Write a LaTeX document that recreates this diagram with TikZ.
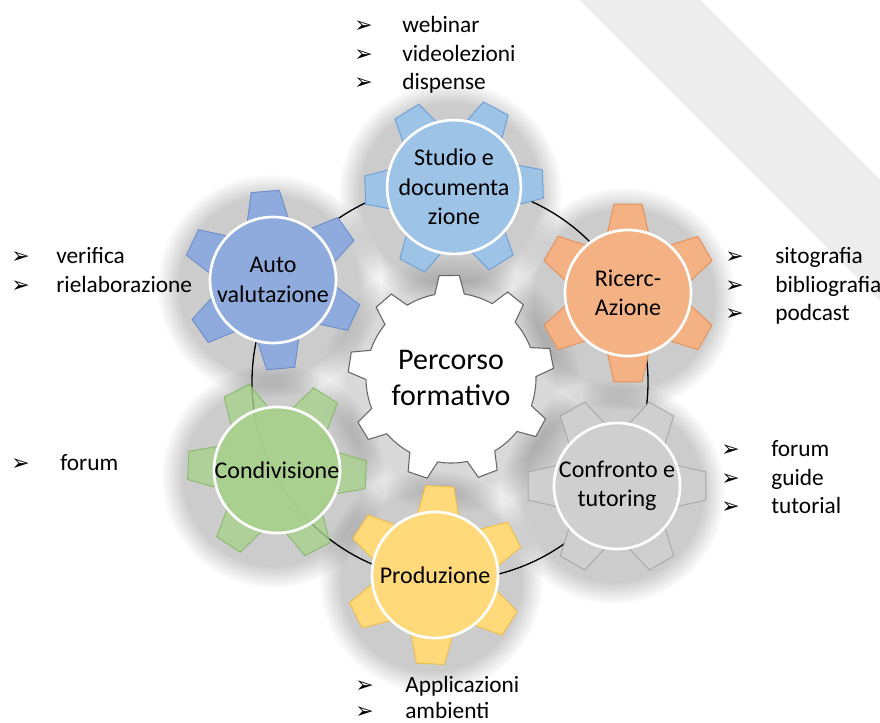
\documentclass[tikz,border=0pt]{standalone}
\usepackage{fontspec}
\setmainfont{Carlito}
\newfontfamily\arrowfont{DejaVu Sans}
\usetikzlibrary{calc,fadings}
\definecolor{studioF}{HTML}{9DC3E6}\definecolor{studioD}{HTML}{6F9FD6}
\definecolor{ricF}{HTML}{F4B183}\definecolor{ricD}{HTML}{E0915E}
\definecolor{autoF}{HTML}{8FAADC}\definecolor{autoD}{HTML}{6C8CCB}
\definecolor{condF}{HTML}{A9D18E}\definecolor{condD}{HTML}{8AB86E}
\definecolor{confF}{HTML}{CFCFCF}\definecolor{confD}{HTML}{A8A8A8}
\definecolor{prodF}{HTML}{FFD97A}\definecolor{prodD}{HTML}{EDBE4A}
\newcommand{\smallgear}[4]{%
  \draw[shift={(#1)}, fill=#3, draw=#4, line width=0.7pt, #2]
    ({-(\gearoff-21)}:60)
    \foreach \k in {0,...,5}{
      -- ({-(\gearoff+\k*60-21)}:60)
      -- ({-(\gearoff+\k*60-9)}:90)
      -- ({-(\gearoff+\k*60+9)}:90)
      -- ({-(\gearoff+\k*60+21)}:60)
    } -- cycle;}
\tikzset{
  gearlabel/.style={circle, minimum size=94.5pt, inner sep=0pt, draw=white,
    line width=2pt, align=center, font=\fontsize{18}{22}\selectfont},
  bullettext/.style={anchor=base west, inner sep=0pt, font=\fontsize{17.5}{21}\selectfont},
  bulletarrow/.style={anchor=base west, inner sep=0pt, font=\arrowfont\fontsize{16.5}{17}\selectfont},
  ring/.style={draw=black, line width=1pt},
  watermark/.style={draw=black, draw opacity=0.07, line width=64pt, line cap=round},
  halo/.style={fill=black, fill opacity=0.2, path fading=circle with fuzzy edge 20 percent}
}
\begin{document}
\begin{tikzpicture}[x=0.75pt, y=-0.75pt]
\useasboundingbox (0,0) rectangle (880,722);
\fill[white] (0,0) rectangle (880,722);
% centers
\coordinate (mainC) at (451,378);
\coordinate (ringC) at (450,382);
\coordinate (studioC) at (454,187);
\coordinate (ricC) at (628,293);
\coordinate (confC) at (617,486);
\coordinate (prodC) at (435,575);
\coordinate (condC) at (277,470);
\coordinate (autoC) at (273,280);
% soft shadows
\foreach \c in {studioC,ricC,confC,prodC,condC,autoC}{
  \fill[halo] ($(\c)+(-4,6)$) circle[radius=112];
}
\fill[halo, fill opacity=0.15] ($(mainC)+(0,6)$) circle[radius=130];
% faint watermark band
\draw[watermark] (600,-40) -- (920,280);
% ring
\draw[ring] (ringC) circle[radius=198];
% central gear
\draw[shift={(mainC)}, fill=white, draw=gray!80!black, line width=0.8pt]
  ({-(11-10)}:85)
  \foreach \k in {0,...,8}{
    -- ({-(11+\k*40-10)}:85)
    -- ({-(11+\k*40-5.6)}:103)
    -- ({-(11+\k*40+5.6)}:103)
    -- ({-(11+\k*40+10)}:85)
    arc[start angle={-(11+\k*40+10)}, end angle={-(11+\k*40+30)}, radius=85]
  } -- cycle;
\node[align=center, font=\fontsize{22.5}{27.5}\selectfont] (main) at (mainC) {Percorso\\formativo};
% small gears
\def\gearoff{2}\smallgear{studioC}{}{studioF}{studioD}
\node[gearlabel, fill=studioF] (studio) at (studioC) {Studio e\\documenta\\zione};
\def\gearoff{30}\smallgear{ricC}{}{ricF}{ricD}
\node[gearlabel, fill=ricF] (ric) at (ricC) {Ricerc-\\Azione};
\def\gearoff{0}\smallgear{confC}{}{confF}{confD}
\node[gearlabel, fill=confF] (conf) at (confC) {Confronto e\\tutoring};
\def\gearoff{27}\smallgear{prodC}{}{prodF}{prodD}
\node[gearlabel, fill=prodF] (prod) at (prodC) {Produzione};
\def\gearoff{35}\smallgear{autoC}{}{autoF}{autoD}
\node[gearlabel, fill=autoF] (auto) at (autoC) {Auto\\valutazione};
\def\gearoff{-3}\smallgear{condC}{fill opacity=0.8}{condF}{condD}
\node[gearlabel, fill=condF, fill opacity=0.8, text opacity=1] (cond) at (condC) {Condivisione};
% bullet lists
\node[bulletarrow] (a1) at (354,32) {➢};
\node[bullettext] (t1) at (402,32) {webinar};
\node[bulletarrow] (a2) at (354,61) {➢};
\node[bullettext] (t2) at (402,61) {videolezioni};
\node[bulletarrow] (a3) at (354,89) {➢};
\node[bullettext] (t3) at (402,89) {dispense};
\node[bulletarrow] (a4) at (11,263) {➢};
\node[bullettext] (t4) at (56,263) {verifica};
\node[bulletarrow] (a5) at (11,292) {➢};
\node[bullettext] (t5) at (56,292) {rielaborazione};
\node[bulletarrow] (a6) at (725,263) {➢};
\node[bullettext] (t6) at (775,263) {sitografia};
\node[bulletarrow] (a7) at (725,292) {➢};
\node[bullettext] (t7) at (775,292) {bibliografia};
\node[bulletarrow] (a8) at (725,320) {➢};
\node[bullettext] (t8) at (775,320) {podcast};
\node[bulletarrow] (a9) at (11,470) {➢};
\node[bullettext] (t9) at (60,470) {forum};
\node[bulletarrow] (a10) at (721,456) {➢};
\node[bullettext] (t10) at (771,456) {forum};
\node[bulletarrow] (a11) at (721,485) {➢};
\node[bullettext] (t11) at (771,485) {guide};
\node[bulletarrow] (a12) at (721,513) {➢};
\node[bullettext] (t12) at (771,513) {tutorial};
\node[bulletarrow] (a13) at (355,692) {➢};
\node[bullettext] (t13) at (405,692) {Applicazioni};
\node[bulletarrow] (a14) at (355,718) {➢};
\node[bullettext] (t14) at (405,718) {ambienti};
\end{tikzpicture}
\end{document}
